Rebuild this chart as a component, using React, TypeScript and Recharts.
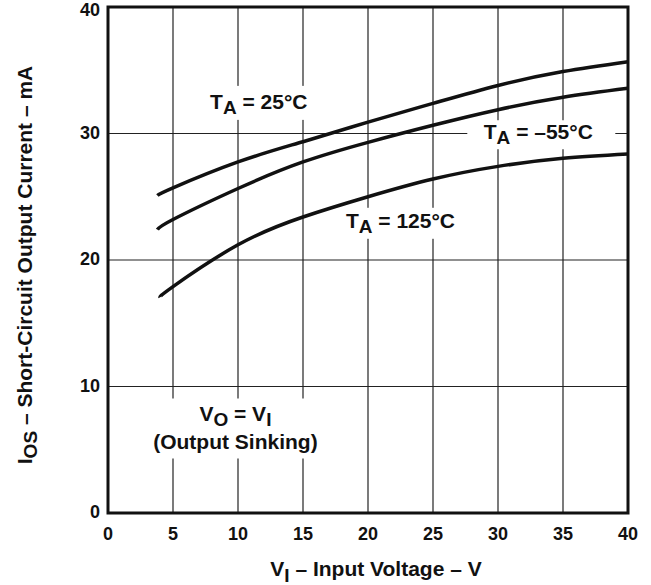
import React from 'react';
import {
  LineChart,
  Line,
  XAxis,
  YAxis,
  CartesianGrid,
  ReferenceArea,
  ReferenceDot,
} from 'recharts';

// V_I (volts) and I_OS (mA)
const curve25 = [
  { x: 3.8, y: 25.1 },
  { x: 5, y: 25.7 },
  { x: 10, y: 27.75 },
  { x: 15, y: 29.35 },
  { x: 20, y: 30.9 },
  { x: 25, y: 32.38 },
  { x: 30, y: 33.8 },
  { x: 35, y: 34.9 },
  { x: 40, y: 35.68 },
];

const curveMinus55 = [
  { x: 3.8, y: 22.4 },
  { x: 5, y: 23.2 },
  { x: 10, y: 25.65 },
  { x: 15, y: 27.75 },
  { x: 20, y: 29.3 },
  { x: 25, y: 30.65 },
  { x: 30, y: 31.88 },
  { x: 35, y: 32.86 },
  { x: 40, y: 33.57 },
];

const curve125 = [
  { x: 4, y: 17.05 },
  { x: 5, y: 17.9 },
  { x: 10, y: 21.2 },
  { x: 15, y: 23.4 },
  { x: 20, y: 25.0 },
  { x: 25, y: 26.4 },
  { x: 30, y: 27.4 },
  { x: 35, y: 28.04 },
  { x: 40, y: 28.38 },
];

const xTicks = [0, 5, 10, 15, 20, 25, 30, 35, 40];
const yTicks = [0, 10, 20, 30, 40];

// curve labels: centre of the text in data units
const tempLabels = [
  { x: 11.6, y: 32.5, temp: '25°C' },
  { x: 33.1, y: 30.1, temp: '–55°C' },
  { x: 22.5, y: 23.1, temp: '125°C' },
];

const FONT = '"Liberation Sans", Arial, Helvetica, sans-serif';

// white gap behind each label (cuts the grid lines like the original)
const gapBox: Record<string, { w: number; dx: number; top: number; bottom: number }> = {
  '25°C': { w: 106, dx: 0, top: 16, bottom: 18 },
  '–55°C': { w: 148, dx: 3, top: 12, bottom: 17 },
  '125°C': { w: 116, dx: 0, top: 13, bottom: 18 },
};

const TempLabel = ({ viewBox, temp }: any) => {
  const cx = viewBox.x + viewBox.width / 2;
  const cy = viewBox.y + viewBox.height / 2;
  const g = gapBox[temp];
  return (
    <g>
      <rect x={cx + g.dx - g.w / 2} y={cy - g.top} width={g.w} height={g.top + g.bottom} fill="#fff" />
      <text x={cx} y={cy + 7} textAnchor="middle" fontFamily={FONT} fontWeight="bold" fontSize={21} fill="#111">
        T
        <tspan dy={5} fontSize={19}>A</tspan>
        <tspan dy={-5}>{' = ' + temp}</tspan>
      </text>
    </g>
  );
};

const NoteLabel = ({ viewBox }: any) => {
  const cx = viewBox.x + viewBox.width / 2;
  const cy = viewBox.y + viewBox.height / 2;
  return (
    <g>
      <rect x={cx - 90} y={cy - 30} width={180} height={60} fill="#fff" />
      <text x={cx} y={cy - 7} textAnchor="middle" fontFamily={FONT} fontWeight="bold" fontSize={21} fill="#111">
        V
        <tspan dy={5} fontSize={19}>O</tspan>
        <tspan dy={-5}> = V</tspan>
        <tspan dy={5} fontSize={19}>I</tspan>
      </text>
      <text x={cx} y={cy + 21} textAnchor="middle" fontFamily={FONT} fontWeight="bold" fontSize={21} fill="#111">
        (Output Sinking)
      </text>
    </g>
  );
};

const XTitle = ({ viewBox }: any) => (
  <text
    x={viewBox.x + viewBox.width / 2 + 8}
    y={viewBox.y + 63}
    textAnchor="middle"
    fontFamily={FONT}
    fontWeight="bold"
    fontSize={21}
    fill="#111"
  >
    V
    <tspan dy={6} fontSize={19}>I</tspan>
    <tspan dy={-6}> – Input Voltage – V</tspan>
  </text>
);

const YTitle = ({ viewBox }: any) => {
  const x = viewBox.x - 16;
  const y = viewBox.y + viewBox.height / 2 + 5;
  return (
    <text
      x={x}
      y={y}
      transform={`rotate(-90, ${x}, ${y})`}
      textAnchor="middle"
      fontFamily={FONT}
      fontWeight="bold"
      fontSize={21}
      fill="#111"
    >
      I
      <tspan dy={5} fontSize={19}>OS</tspan>
      <tspan dy={-5}> – Short-Circuit Output Current – mA</tspan>
    </text>
  );
};

const tickStyle = { fontFamily: FONT, fontWeight: 'bold', fontSize: 18, fill: '#111' };

const YTick = ({ x, y, payload }: any) => (
  <text x={x} y={Math.max(y - 1, 9.5)} dy="0.355em" textAnchor="end" {...tickStyle}>
    {payload.value}
  </text>
);

export default function App() {
  return (
    <div style={{ position: 'absolute', left: 0, top: 0, background: '#fff' }}>
      <LineChart width={651} height={585} margin={{ top: 7, right: 23, bottom: 32, left: 48 }}>
        <CartesianGrid stroke="#222" strokeWidth={1.2} vertical horizontal />
        <XAxis
          type="number"
          dataKey="x"
          domain={[0, 40]}
          ticks={xTicks}
          interval={0}
          height={40}
          axisLine={false}
          tickLine={false}
          tickSize={0}
          tickMargin={14}
          tick={tickStyle}
          label={(props: any) => <XTitle {...props} />}
        />
        <YAxis
          type="number"
          domain={[0, 40]}
          ticks={yTicks}
          interval={0}
          width={60}
          axisLine={false}
          tickLine={false}
          tickSize={0}
          tickMargin={8}
          tick={<YTick />}
          label={(props: any) => <YTitle {...props} />}
        />
        {tempLabels.map((l) => (
          <ReferenceDot
            key={l.temp}
            x={l.x}
            y={l.y}
            r={0}
            fill="none"
            stroke="none"
            label={(props: any) => <TempLabel {...props} temp={l.temp} />}
          />
        ))}
        <ReferenceDot x={9.8} y={6.68} r={0} fill="none" stroke="none" label={(props: any) => <NoteLabel {...props} />} />
        <Line data={curve25} dataKey="y" type="natural" stroke="#111" strokeWidth={3.5} dot={false} isAnimationActive={false} />
        <Line data={curveMinus55} dataKey="y" type="natural" stroke="#111" strokeWidth={3.5} dot={false} isAnimationActive={false} />
        <Line data={curve125} dataKey="y" type="natural" stroke="#111" strokeWidth={3.5} dot={false} isAnimationActive={false} />
        <ReferenceArea x1={0} x2={40} y1={0} y2={40} fill="none" stroke="#111" strokeWidth={3} ifOverflow="visible" />
      </LineChart>
    </div>
  );
}
